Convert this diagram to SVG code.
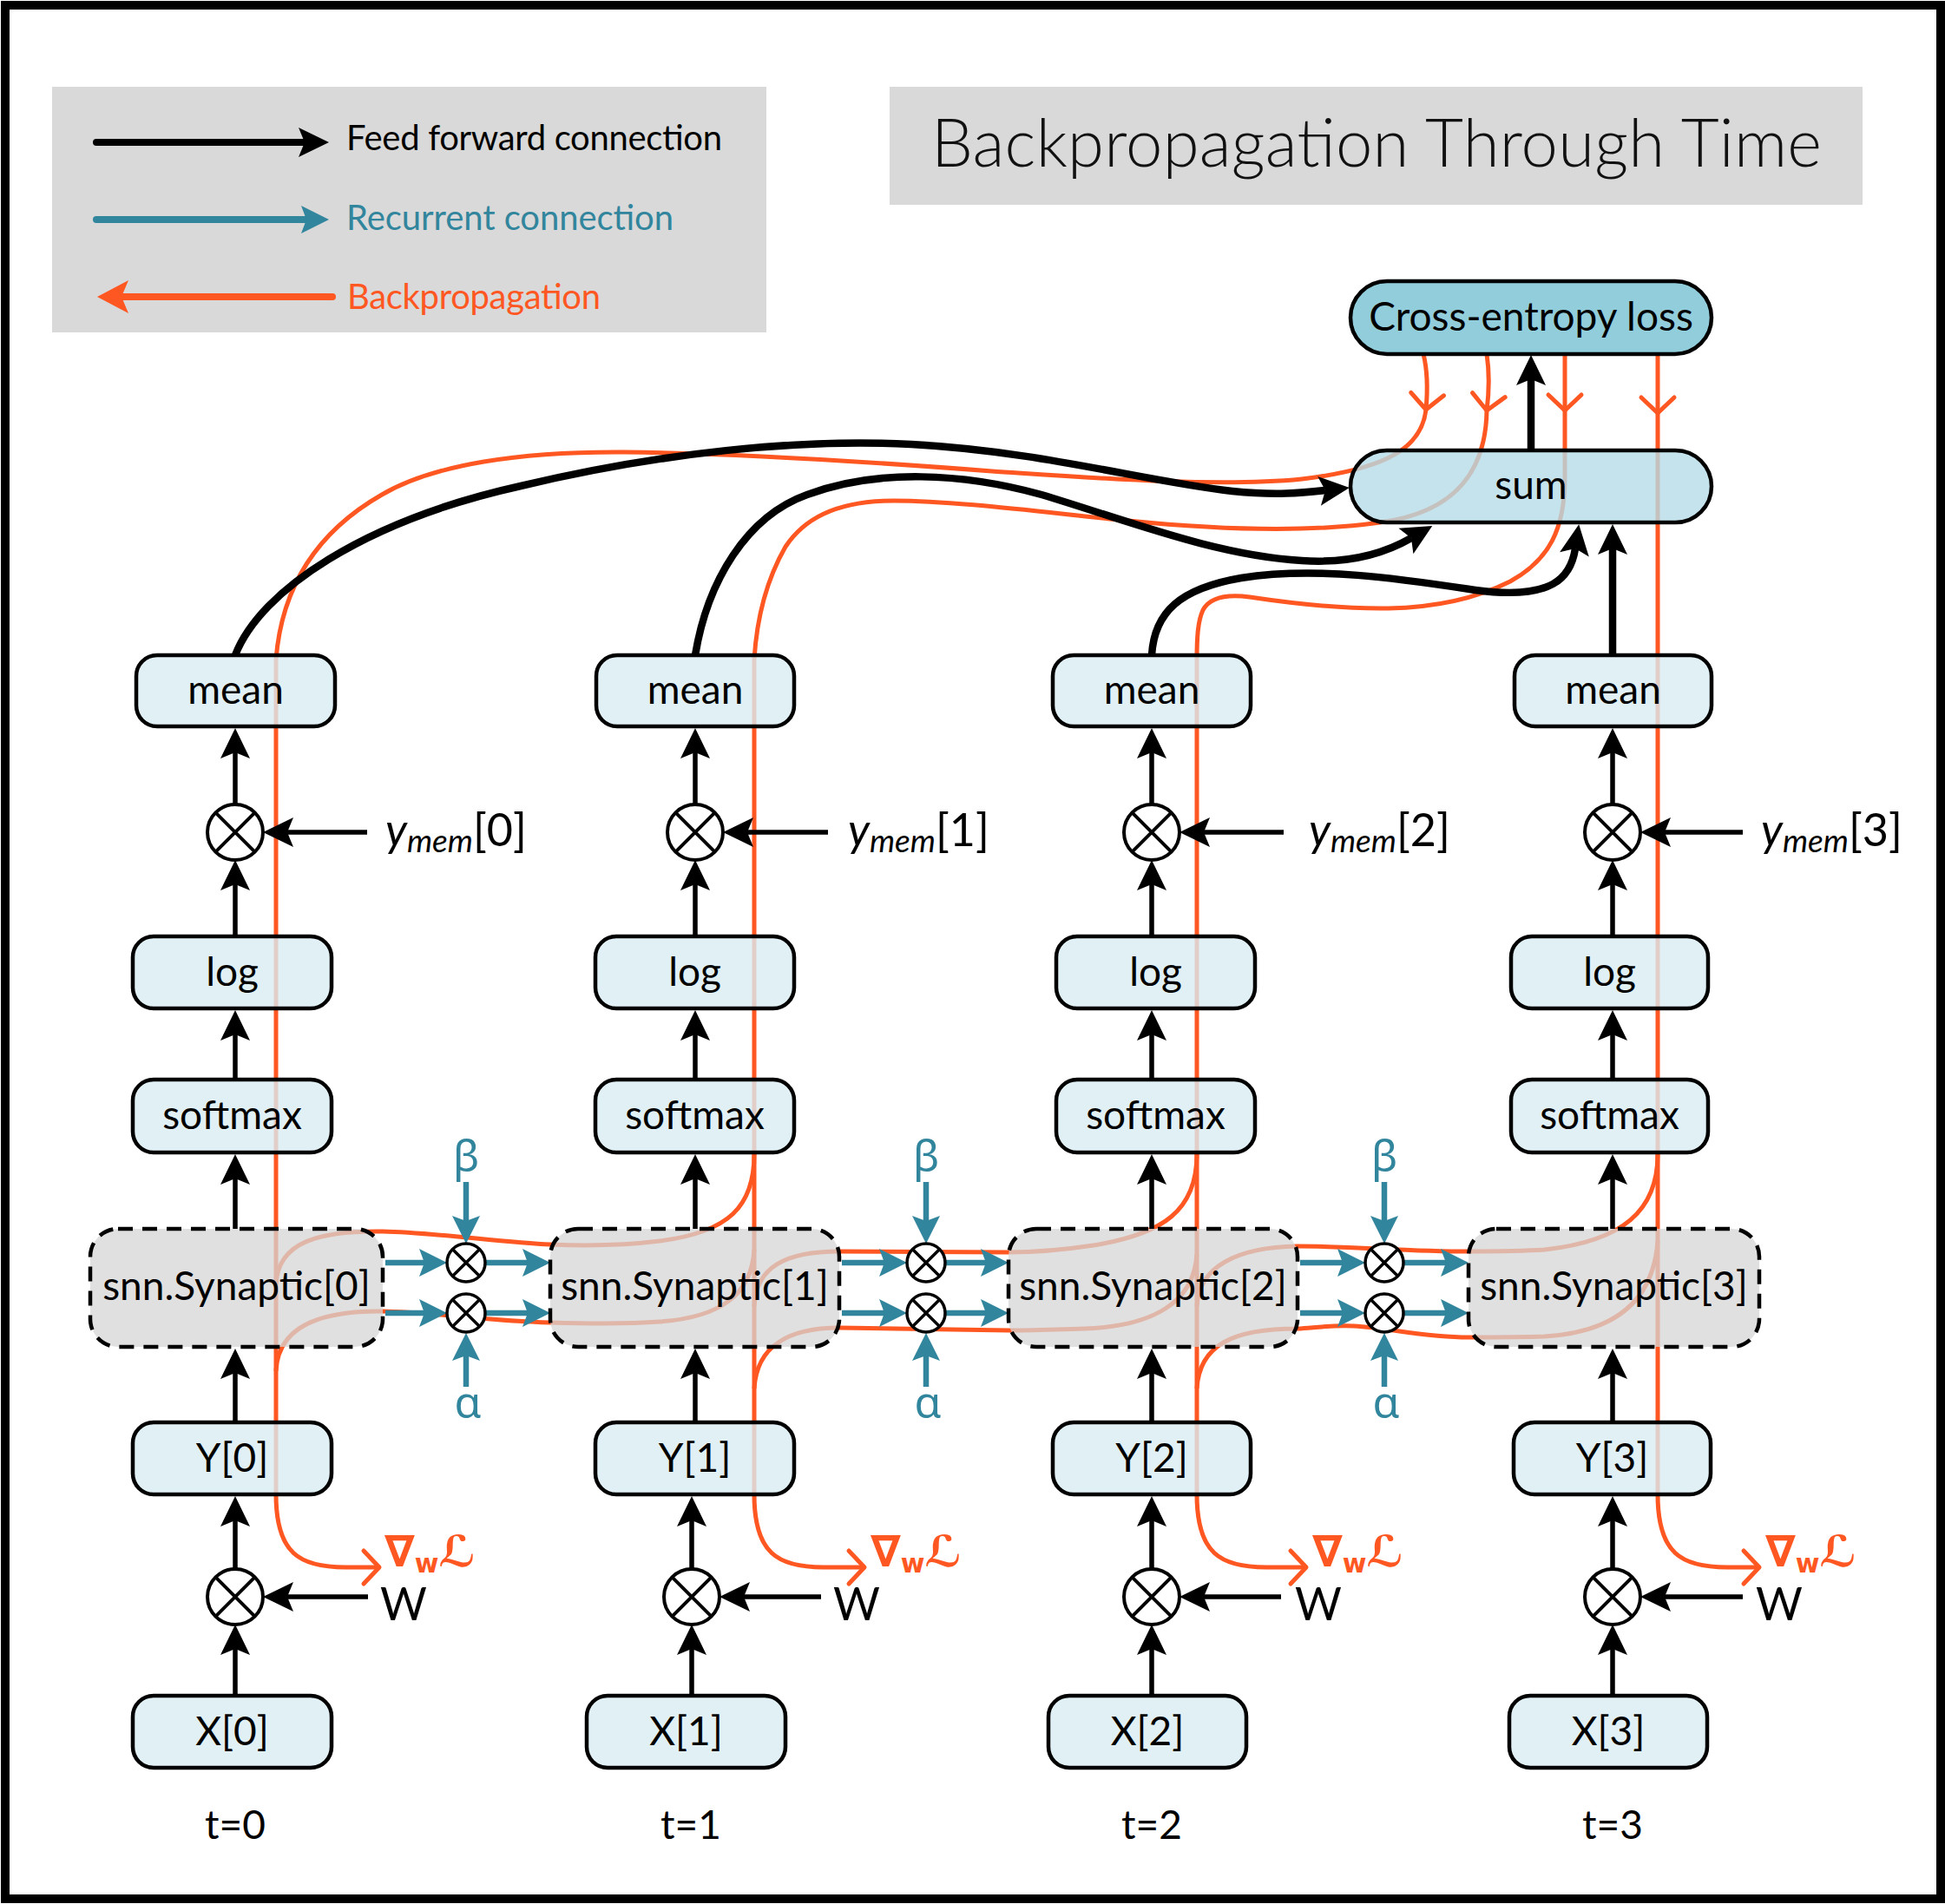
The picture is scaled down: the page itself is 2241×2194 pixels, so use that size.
<svg xmlns="http://www.w3.org/2000/svg" width="2241" height="2194" viewBox="0 0 2241 2194">
<defs>
<style>
.t{font-family:Lato,'Open Sans','Liberation Sans',sans-serif;fill:#000}
.lbl{font-size:46px;text-anchor:middle}
.box{fill:#D9ECF3;fill-opacity:.8;stroke:#000;stroke-width:4.5}
.syn{fill:#D6D6D6;fill-opacity:.75;stroke:#000;stroke-width:4.5;stroke-dasharray:17 11}
.sum{fill:#B7DCE7;fill-opacity:.8;stroke:#000;stroke-width:4.5}
.ce{fill:#92CDDC;stroke:#000;stroke-width:4.5}
.ox{fill:#fff;stroke:#000;stroke-width:4}
.oxs{fill:#fff;stroke:#000;stroke-width:3.5}
.bp{fill:none;stroke:#FF5722;stroke-width:5}
.bpa{marker-end:url(#mo)}
.ff{fill:none;stroke:#000;stroke-width:5.5;marker-end:url(#mb)}
.ffc{stroke-width:8.5}
.rc{fill:none;stroke:#31859C;stroke-width:6.5;marker-end:url(#mt)}
.greek{font-family:'Noto Sans','DejaVu Sans',sans-serif;font-size:50px;fill:#31859C;text-anchor:middle}
.grad{font-family:'DejaVu Sans',sans-serif;font-weight:bold;fill:#FF5722;font-size:50px}
.ym{font-size:52px}
.leg{font-size:40px}
</style>
<marker id="mb" viewBox="-10 -20 40 40" refX="0" refY="0" markerWidth="40" markerHeight="40" markerUnits="userSpaceOnUse" orient="auto"><path d="M28 0 L-7 -17 L0 0 L-7 17 Z" fill="#000"/></marker>
<marker id="mt" viewBox="-10 -20 40 40" refX="0" refY="0" markerWidth="40" markerHeight="40" markerUnits="userSpaceOnUse" orient="auto"><path d="M26 0 L-6 -16 L0 0 L-6 16 Z" fill="#31859C"/></marker>
<marker id="mo" viewBox="-24 -24 30 48" refX="0" refY="0" markerWidth="30" markerHeight="48" markerUnits="userSpaceOnUse" orient="auto"><path d="M-18 -19 L0 0 L-18 19" fill="none" stroke="#FF5722" stroke-width="5" stroke-linecap="round" stroke-linejoin="round"/></marker>
<marker id="mof" viewBox="-10 -22 40 44" refX="0" refY="0" markerWidth="40" markerHeight="44" markerUnits="userSpaceOnUse" orient="auto"><path d="M28 0 L-8 -19 L0 0 L-8 19 Z" fill="#FF5722"/></marker>
</defs>

<rect x="6" y="6" width="2230" height="2182" fill="#fff" stroke="#000" stroke-width="10"/>

<g id="legend">
<rect x="60" y="100" width="823" height="283" fill="#D9D9D9"/>
<path d="M111 164 L351 164" fill="none" stroke="#000" stroke-width="8" stroke-linecap="round" marker-end="url(#mb)"/>
<path d="M111 253 L353 253" fill="none" stroke="#31859C" stroke-width="8" stroke-linecap="round" marker-end="url(#mt)"/>
<path d="M383 342 L140 342" fill="none" stroke="#FF5722" stroke-width="8" stroke-linecap="round" marker-end="url(#mof)"/>
<text class="t leg" x="399" y="173" textLength="433">Feed forward connection</text>
<text class="t leg" x="399" y="265" textLength="377" style="fill:#31859C">Recurrent connection</text>
<text class="t leg" x="400" y="356" textLength="292" style="fill:#FF5722">Backpropagation</text>
</g>

<g id="title">
<rect x="1025" y="100" width="1121" height="136" fill="#D9D9D9"/>
<text class="t" x="1073" y="192" font-size="76" font-weight="300" textLength="1026" style="fill:#111">Backpropagation Through Time</text>
</g>

<g id="connectors">
<!-- backpropagation paths -->
<path class="bp bpa" d="M1640 408 C1645 428 1645 450 1643 472"/>
<path class="bp bpa" d="M1643 472 C1638 515 1600 540 1500 552 C1400 562 1250 550 1143 543 C1000 532 850 522 720 521 C600 520 500 535 440 570 C370 610 325 670 318 760 L318 1722 C318 1790 345 1806 398 1806 L437 1806"/>
<path class="bp bpa" d="M1713 408 C1716 428 1716 450 1713 473"/>
<path class="bp bpa" d="M1713 473 C1712 540 1680 590 1590 602 C1520 612 1420 612 1300 600 C1200 590 1100 577 1030 577 C960 577 925 600 905 630 C885 665 872 710 869 760 L869 1722 C869 1790 896 1806 949 1806 L996 1806"/>
<path class="bp bpa" d="M1803 408 L1803 473"/>
<path class="bp bpa" d="M1803 473 L1803 550 C1803 610 1785 645 1740 670 C1700 690 1650 700 1600 701 C1540 702 1480 694 1440 688 C1410 684 1393 690 1386 703 C1380 716 1379 735 1379 760 L1379 1722 C1379 1790 1406 1806 1459 1806 L1505 1806"/>
<path class="bp bpa" d="M1910 408 L1910 476"/>
<path class="bp bpa" d="M1910 476 L1910 1722 C1910 1790 1937 1806 1990 1806 L2027 1806"/>
<path class="bp" d="M869 1330 C869 1390 840 1420 760 1430 C720 1435 680 1436 634 1434 C580 1432 500 1420 441 1419 C370 1418 320 1430 318 1480"/>
<path class="bp" d="M1379 1330 C1379 1395 1340 1422 1260 1435 C1220 1441 1190 1443 1162 1443 L967 1442 C905 1442 871 1460 869 1505"/>
<path class="bp" d="M1910 1330 C1910 1395 1870 1430 1780 1440 C1750 1442 1720 1442 1692 1442 C1620 1442 1560 1436 1495 1436 C1425 1437 1381 1460 1379 1505"/>
<path class="bp" d="M869 1440 C866 1492 830 1518 760 1523 C720 1526 670 1525 634 1524 C560 1522 500 1512 441 1511 C365 1510 320 1530 318 1580"/>
<path class="bp" d="M1379 1445 C1376 1500 1330 1528 1250 1531 C1210 1532 1185 1533 1162 1533 L967 1530 C910 1530 872 1550 869 1600"/>
<path class="bp" d="M1910 1430 C1905 1500 1860 1535 1780 1540 C1750 1541 1720 1541 1692 1541 C1640 1541 1600 1530 1560 1528 C1530 1527 1515 1530 1495 1531 C1420 1531 1382 1550 1379 1600"/>

<!-- feed forward: mean to sum -->
<path class="ff ffc" d="M271 755 C300 680 420 600 600 560 C760 522 920 505 1050 512 C1200 520 1320 555 1420 566 C1470 571 1500 568 1527 565"/>
<path class="ff ffc" d="M801 755 C815 670 860 595 930 570 C1010 540 1110 545 1200 570 C1300 600 1400 640 1500 646 C1560 650 1600 635 1626 620"/>
<path class="ff ffc" d="M1327 755 C1330 705 1360 678 1430 666 C1520 652 1620 668 1700 680 C1790 692 1810 665 1815 632"/>
<path class="ff ffc" d="M1858 755 L1858 632"/>
<path class="ff ffc" d="M1764 519 L1764 437"/>

<!-- feed forward: column 0 -->
<path class="ff" d="M271 927 L271 867"/>
<path class="ff" d="M271 1079 L271 1019"/>
<path class="ff" d="M271 1244 L271 1192"/>
<path class="ff" d="M271 1416 L271 1358"/>
<path class="ff" d="M271 1639 L271 1582"/>
<path class="ff" d="M271 1808 L271 1752"/>
<path class="ff" d="M271 1954 L271 1900"/>
<path class="ff" d="M423 959 L331 959"/>
<path class="ff" d="M424 1840 L331 1840"/>
<!-- column 1 -->
<path class="ff" d="M801 927 L801 867"/>
<path class="ff" d="M801 1079 L801 1019"/>
<path class="ff" d="M801 1244 L801 1192"/>
<path class="ff" d="M801 1416 L801 1358"/>
<path class="ff" d="M801 1639 L801 1582"/>
<path class="ff" d="M797 1808 L797 1752"/>
<path class="ff" d="M797 1954 L797 1900"/>
<path class="ff" d="M954 959 L861 959"/>
<path class="ff" d="M946 1840 L857 1840"/>
<!-- column 2 -->
<path class="ff" d="M1327 927 L1327 867"/>
<path class="ff" d="M1327 1079 L1327 1019"/>
<path class="ff" d="M1327 1244 L1327 1192"/>
<path class="ff" d="M1327 1416 L1327 1358"/>
<path class="ff" d="M1327 1639 L1327 1582"/>
<path class="ff" d="M1327 1808 L1327 1752"/>
<path class="ff" d="M1327 1954 L1327 1900"/>
<path class="ff" d="M1479 959 L1387 959"/>
<path class="ff" d="M1476 1840 L1387 1840"/>
<!-- column 3 -->
<path class="ff" d="M1858 927 L1858 867"/>
<path class="ff" d="M1858 1079 L1858 1019"/>
<path class="ff" d="M1858 1244 L1858 1192"/>
<path class="ff" d="M1858 1416 L1858 1358"/>
<path class="ff" d="M1858 1639 L1858 1582"/>
<path class="ff" d="M1858 1808 L1858 1752"/>
<path class="ff" d="M1858 1954 L1858 1900"/>
<path class="ff" d="M2008 959 L1918 959"/>
<path class="ff" d="M2008 1840 L1918 1840"/>

<!-- recurrent -->
<path class="rc" d="M444 1455 L489 1455"/>
<path class="rc" d="M559 1455 L608 1455"/>
<path class="rc" d="M444 1513 L489 1513"/>
<path class="rc" d="M559 1513 L608 1513"/>
<path class="rc" d="M537 1362 L537 1407"/>
<path class="rc" d="M537 1598 L537 1562"/>
<path class="rc" d="M970 1455 L1019 1455"/>
<path class="rc" d="M1089 1455 L1136 1455"/>
<path class="rc" d="M970 1513 L1019 1513"/>
<path class="rc" d="M1089 1513 L1136 1513"/>
<path class="rc" d="M1067 1362 L1067 1407"/>
<path class="rc" d="M1067 1598 L1067 1562"/>
<path class="rc" d="M1498 1455 L1547 1455"/>
<path class="rc" d="M1617 1455 L1666 1455"/>
<path class="rc" d="M1498 1513 L1547 1513"/>
<path class="rc" d="M1617 1513 L1666 1513"/>
<path class="rc" d="M1595 1362 L1595 1407"/>
<path class="rc" d="M1595 1598 L1595 1562"/>
</g>

<g id="loss"><rect class="ce" x="1556" y="324" width="416" height="84" rx="42"/><text class="t lbl" x="1764" y="381" font-size="44">Cross-entropy loss</text></g>
<g id="sum"><rect class="sum" x="1556" y="519" width="416" height="83" rx="41.5"/><text class="t lbl" x="1764" y="575">sum</text></g>

<!-- column 0 -->
<g id="mean0"><rect class="box" x="157" y="755" width="229" height="82" rx="24"/><text class="t lbl" x="271.5" y="811">mean</text></g>
<g id="mulmem0"><circle class="ox" cx="271" cy="959" r="32"/><path d="M248.4 936.4 L293.6 981.6 M293.6 936.4 L248.4 981.6" stroke="#000" stroke-width="4"/></g>
<g id="ymem0"><text class="t ym" x="444" y="975"><tspan font-style="italic">y</tspan><tspan font-style="italic" font-size="37" dy="7">mem</tspan><tspan dy="-7">[0]</tspan></text></g>
<g id="log0"><rect class="box" x="153" y="1079" width="229" height="83" rx="24"/><text class="t lbl" x="267.5" y="1136">log</text></g>
<g id="softmax0"><rect class="box" x="153" y="1244" width="229" height="84" rx="24"/><text class="t lbl" x="267.5" y="1301">softmax</text></g>
<g id="syn0"><rect class="syn" x="104" y="1416" width="337" height="136" rx="32"/><text class="t lbl" x="272.5" y="1498" font-size="44">snn.Synaptic[0]</text></g>
<g id="Y0"><rect class="box" x="153" y="1639" width="229" height="83" rx="24"/><text class="t lbl" x="267.5" y="1696">Y[0]</text></g>
<g id="mulW0"><circle class="ox" cx="271" cy="1840" r="32"/><path d="M248.4 1817.4 L293.6 1862.6 M293.6 1817.4 L248.4 1862.6" stroke="#000" stroke-width="4"/></g>
<g id="W0"><text class="t ym" x="438" y="1867">W</text></g>
<g id="grad0"><text class="grad" x="443" y="1805">∇<tspan font-size="30" dy="7">w</tspan><tspan dy="-7">ℒ</tspan></text></g>
<g id="X0"><rect class="box" x="153" y="1954" width="229" height="83" rx="24"/><text class="t lbl" x="267.5" y="2011">X[0]</text></g>
<g id="t0"><text class="t lbl" x="271" y="2119" font-size="52">t=0</text></g>

<!-- column 1 -->
<g id="mean1"><rect class="box" x="687" y="755" width="228" height="82" rx="24"/><text class="t lbl" x="801" y="811">mean</text></g>
<g id="mulmem1"><circle class="ox" cx="801" cy="959" r="32"/><path d="M778.4 936.4 L823.6 981.6 M823.6 936.4 L778.4 981.6" stroke="#000" stroke-width="4"/></g>
<g id="ymem1"><text class="t ym" x="977" y="975"><tspan font-style="italic">y</tspan><tspan font-style="italic" font-size="37" dy="7">mem</tspan><tspan dy="-7">[1]</tspan></text></g>
<g id="log1"><rect class="box" x="686" y="1079" width="229" height="83" rx="24"/><text class="t lbl" x="800.5" y="1136">log</text></g>
<g id="softmax1"><rect class="box" x="686" y="1244" width="229" height="84" rx="24"/><text class="t lbl" x="800.5" y="1301">softmax</text></g>
<g id="syn1"><rect class="syn" x="634" y="1416" width="333" height="136" rx="32"/><text class="t lbl" x="800.5" y="1498" font-size="44">snn.Synaptic[1]</text></g>
<g id="Y1"><rect class="box" x="686" y="1639" width="229" height="83" rx="24"/><text class="t lbl" x="800.5" y="1696">Y[1]</text></g>
<g id="mulW1"><circle class="ox" cx="797" cy="1840" r="32"/><path d="M774.4 1817.4 L819.6 1862.6 M819.6 1817.4 L774.4 1862.6" stroke="#000" stroke-width="4"/></g>
<g id="W1"><text class="t ym" x="960" y="1867">W</text></g>
<g id="grad1"><text class="grad" x="1003" y="1805">∇<tspan font-size="30" dy="7">w</tspan><tspan dy="-7">ℒ</tspan></text></g>
<g id="X1"><rect class="box" x="676" y="1954" width="229" height="83" rx="24"/><text class="t lbl" x="790.5" y="2011">X[1]</text></g>
<g id="t1"><text class="t lbl" x="796" y="2119" font-size="52">t=1</text></g>

<!-- column 2 -->
<g id="mean2"><rect class="box" x="1213" y="755" width="228" height="82" rx="24"/><text class="t lbl" x="1327" y="811">mean</text></g>
<g id="mulmem2"><circle class="ox" cx="1327" cy="959" r="32"/><path d="M1304.4 936.4 L1349.6 981.6 M1349.6 936.4 L1304.4 981.6" stroke="#000" stroke-width="4"/></g>
<g id="ymem2"><text class="t ym" x="1508" y="975"><tspan font-style="italic">y</tspan><tspan font-style="italic" font-size="37" dy="7">mem</tspan><tspan dy="-7">[2]</tspan></text></g>
<g id="log2"><rect class="box" x="1217" y="1079" width="229" height="83" rx="24"/><text class="t lbl" x="1331.5" y="1136">log</text></g>
<g id="softmax2"><rect class="box" x="1217" y="1244" width="229" height="84" rx="24"/><text class="t lbl" x="1331.5" y="1301">softmax</text></g>
<g id="syn2"><rect class="syn" x="1162" y="1416" width="333" height="136" rx="32"/><text class="t lbl" x="1328.5" y="1498" font-size="44">snn.Synaptic[2]</text></g>
<g id="Y2"><rect class="box" x="1213" y="1639" width="228" height="83" rx="24"/><text class="t lbl" x="1327" y="1696">Y[2]</text></g>
<g id="mulW2"><circle class="ox" cx="1327" cy="1840" r="32"/><path d="M1304.4 1817.4 L1349.6 1862.6 M1349.6 1817.4 L1304.4 1862.6" stroke="#000" stroke-width="4"/></g>
<g id="W2"><text class="t ym" x="1492" y="1867">W</text></g>
<g id="grad2"><text class="grad" x="1512" y="1805">∇<tspan font-size="30" dy="7">w</tspan><tspan dy="-7">ℒ</tspan></text></g>
<g id="X2"><rect class="box" x="1208" y="1954" width="228" height="83" rx="24"/><text class="t lbl" x="1322" y="2011">X[2]</text></g>
<g id="t2"><text class="t lbl" x="1327" y="2119" font-size="52">t=2</text></g>

<!-- column 3 -->
<g id="mean3"><rect class="box" x="1745" y="755" width="227" height="82" rx="24"/><text class="t lbl" x="1858.5" y="811">mean</text></g>
<g id="mulmem3"><circle class="ox" cx="1858" cy="959" r="32"/><path d="M1835.4 936.4 L1880.6 981.6 M1880.6 936.4 L1835.4 981.6" stroke="#000" stroke-width="4"/></g>
<g id="ymem3"><text class="t ym" x="2029" y="975"><tspan font-style="italic">y</tspan><tspan font-style="italic" font-size="37" dy="7">mem</tspan><tspan dy="-7">[3]</tspan></text></g>
<g id="log3"><rect class="box" x="1741" y="1079" width="227" height="83" rx="24"/><text class="t lbl" x="1854.5" y="1136">log</text></g>
<g id="softmax3"><rect class="box" x="1741" y="1244" width="227" height="84" rx="24"/><text class="t lbl" x="1854.5" y="1301">softmax</text></g>
<g id="syn3"><rect class="syn" x="1692" y="1416" width="335" height="136" rx="32"/><text class="t lbl" x="1859.5" y="1498" font-size="44">snn.Synaptic[3]</text></g>
<g id="Y3"><rect class="box" x="1744" y="1639" width="227" height="83" rx="24"/><text class="t lbl" x="1857.5" y="1696">Y[3]</text></g>
<g id="mulW3"><circle class="ox" cx="1858" cy="1840" r="32"/><path d="M1835.4 1817.4 L1880.6 1862.6 M1880.6 1817.4 L1835.4 1862.6" stroke="#000" stroke-width="4"/></g>
<g id="W3"><text class="t ym" x="2023" y="1867">W</text></g>
<g id="grad3"><text class="grad" x="2034" y="1805">∇<tspan font-size="30" dy="7">w</tspan><tspan dy="-7">ℒ</tspan></text></g>
<g id="X3"><rect class="box" x="1739" y="1954" width="228" height="83" rx="24"/><text class="t lbl" x="1853" y="2011">X[3]</text></g>
<g id="t3"><text class="t lbl" x="1858" y="2119" font-size="52">t=3</text></g>

<!-- recurrent multipliers -->
<g id="mulbeta01"><circle class="oxs" cx="537" cy="1455" r="22"/><path d="M521.4 1439.4 L552.6 1470.6 M552.6 1439.4 L521.4 1470.6" stroke="#000" stroke-width="3.5"/></g>
<g id="mulalpha01"><circle class="oxs" cx="537" cy="1513" r="22"/><path d="M521.4 1497.4 L552.6 1528.6 M552.6 1497.4 L521.4 1528.6" stroke="#000" stroke-width="3.5"/></g>
<g id="beta01"><text class="greek" x="537" y="1350">β</text></g>
<g id="alpha01"><text class="greek" x="539" y="1634">α</text></g>
<g id="mulbeta12"><circle class="oxs" cx="1067" cy="1455" r="22"/><path d="M1051.4 1439.4 L1082.6 1470.6 M1082.6 1439.4 L1051.4 1470.6" stroke="#000" stroke-width="3.5"/></g>
<g id="mulalpha12"><circle class="oxs" cx="1067" cy="1513" r="22"/><path d="M1051.4 1497.4 L1082.6 1528.6 M1082.6 1497.4 L1051.4 1528.6" stroke="#000" stroke-width="3.5"/></g>
<g id="beta12"><text class="greek" x="1067" y="1350">β</text></g>
<g id="alpha12"><text class="greek" x="1069" y="1634">α</text></g>
<g id="mulbeta23"><circle class="oxs" cx="1595" cy="1455" r="22"/><path d="M1579.4 1439.4 L1610.6 1470.6 M1610.6 1439.4 L1579.4 1470.6" stroke="#000" stroke-width="3.5"/></g>
<g id="mulalpha23"><circle class="oxs" cx="1595" cy="1513" r="22"/><path d="M1579.4 1497.4 L1610.6 1528.6 M1610.6 1497.4 L1579.4 1528.6" stroke="#000" stroke-width="3.5"/></g>
<g id="beta23"><text class="greek" x="1595" y="1350">β</text></g>
<g id="alpha23"><text class="greek" x="1597" y="1634">α</text></g>
</svg>
